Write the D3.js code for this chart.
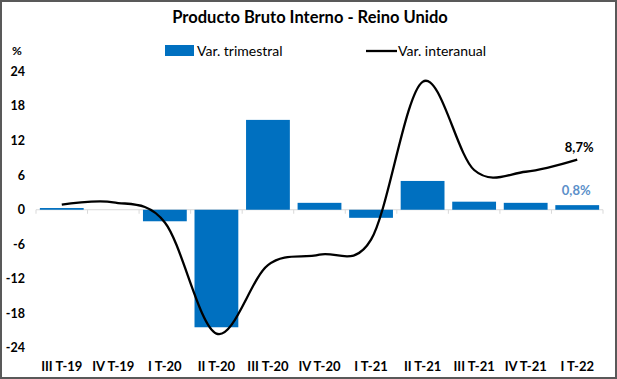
<!DOCTYPE html>
<html>
<head>
<meta charset="utf-8">
<script src="https://cdn.jsdelivr.net/npm/d3@7"></script>
<style>
  body { margin: 0; background: #fff; }
  text { font-family: Lato, "Open Sans", sans-serif; }
</style>
</head>
<body>
<script>
const quarters = ['III T-19', 'IV T-19', 'I T-20', 'II T-20', 'III T-20', 'IV T-20', 'I T-21', 'II T-21', 'III T-21', 'IV T-21', 'I T-22']
// var. trimestral (bars)
const qoq = [0.3, 0.0, -2.0, -20.4, 15.6, 1.2, -1.4, 5.0, 1.4, 1.2, 0.8]
// var. interanual (line)
const yoy = [0.9, 1.3, -2.2, -21.5, -9.6, -7.8, -5.2, 22.2, 6.9, 6.6, 8.7]
const yTicks = [24, 18, 12, 6, 0, -6, -12, -18, -24]

const w = 617
const h = 379

const svg = d3.select('body')
  .append('svg')
  .attr('width', w)
  .attr('height', h)

// outer frame
svg.append('rect')
  .attr('x', 1)
  .attr('y', 1)
  .attr('width', w - 2)
  .attr('height', h - 2)
  .style('fill', '#fff')
  .style('stroke', '#595959')
  .style('stroke-width', 2)

svg.append('text')
  .attr('x', 310)
  .attr('y', 23)
  .attr('text-anchor', 'middle')
  .style('font-size', '16.5px')
  .style('font-weight', 'bold')
  .text('Producto Bruto Interno - Reino Unido')

const x = d3.scaleBand()
  .domain(quarters)
  .range([36, 603])
  .paddingInner(0.15)
  .paddingOuter(0.075)

const y = d3.scaleLinear()
  .domain([-24, 24])
  .range([348, 71.5])

// y tick labels
svg.append('g')
  .selectAll('text')
  .data(yTicks)
  .enter()
  .append('text')
  .attr('x', 25)
  .attr('y', d => y(d))
  .attr('dy', '0.35em')
  .attr('text-anchor', 'end')
  .style('font-size', '12.5px')
  .style('font-weight', 'bold')
  .text(d => d)

svg.append('text')
  .attr('x', 12)
  .attr('y', 51)
  .attr('dy', '0.35em')
  .style('font-size', '12px')
  .style('font-weight', 'bold')
  .text('%')

// zero axis line with ticks at category boundaries
const step = x.step()
const off = (x.step() - x.bandwidth()) / 2
svg.append('line')
  .attr('x1', x(quarters[0]) - off)
  .attr('x2', x(quarters[quarters.length - 1]) + x.bandwidth() + off)
  .attr('y1', y(0))
  .attr('y2', y(0))
  .style('stroke', '#d9d9d9')
  .style('stroke-width', 1.2)

svg.append('g')
  .selectAll('line')
  .data(quarters.concat(['end']))
  .enter()
  .append('line')
  .attr('x1', (d, i) => x(quarters[0]) - off + i * step)
  .attr('x2', (d, i) => x(quarters[0]) - off + i * step)
  .attr('y1', y(0))
  .attr('y2', y(0) + 4)
  .style('stroke', '#d9d9d9')
  .style('stroke-width', 1)

// bars
svg.append('g')
  .selectAll('rect')
  .data(qoq)
  .enter()
  .append('rect')
  .attr('x', (d, i) => x(quarters[i]))
  .attr('y', d => y(Math.max(0, d)))
  .attr('width', x.bandwidth())
  .attr('height', d => Math.abs(y(d) - y(0)))
  .style('fill', '#0070C0')

// smoothed line
const line = d3.line()
  .x((d, i) => x(quarters[i]) + x.bandwidth() / 2)
  .y(d => y(d))
  .curve(d3.curveCardinal.tension(0))

svg.append('path')
  .datum(yoy)
  .attr('d', line)
  .style('fill', 'none')
  .style('stroke', '#000')
  .style('stroke-width', 2.3)

// x labels
svg.append('g')
  .selectAll('text')
  .data(quarters)
  .enter()
  .append('text')
  .attr('x', d => x(d) + x.bandwidth() / 2)
  .attr('y', 366)
  .attr('dy', '0.35em')
  .attr('text-anchor', 'middle')
  .style('font-size', '13px')
  .style('font-weight', 'bold')
  .text(d => d)

// end labels
const last = quarters.length - 1
svg.append('text')
  .attr('x', x(quarters[last]) + x.bandwidth() / 2 + 2)
  .attr('y', y(yoy[last]) - 12)
  .attr('dy', '0.35em')
  .attr('text-anchor', 'middle')
  .style('font-size', '13px')
  .style('font-weight', 'bold')
  .text(String(yoy[last]).replace('.', ',') + '%')

svg.append('text')
  .attr('x', x(quarters[last]) + x.bandwidth() / 2 - 1)
  .attr('y', y(qoq[last]) - 15)
  .attr('dy', '0.35em')
  .attr('text-anchor', 'middle')
  .style('font-size', '13px')
  .style('font-weight', 'bold')
  .style('fill', '#5B8FC9')
  .text(String(qoq[last].toFixed(1)).replace('.', ',') + '%')

// legend
svg.append('rect')
  .attr('x', 165)
  .attr('y', 45)
  .attr('width', 29)
  .attr('height', 11)
  .style('fill', '#0070C0')
svg.append('text')
  .attr('x', 197)
  .attr('y', 51)
  .attr('dy', '0.35em')
  .style('font-size', '14px')
  .text('Var. trimestral')

svg.append('line')
  .attr('x1', 366)
  .attr('x2', 397)
  .attr('y1', 51)
  .attr('y2', 51)
  .style('stroke', '#000')
  .style('stroke-width', 2.3)
svg.append('text')
  .attr('x', 398)
  .attr('y', 51)
  .attr('dy', '0.35em')
  .style('font-size', '14px')
  .text('Var. interanual')
</script>
</body>
</html>
